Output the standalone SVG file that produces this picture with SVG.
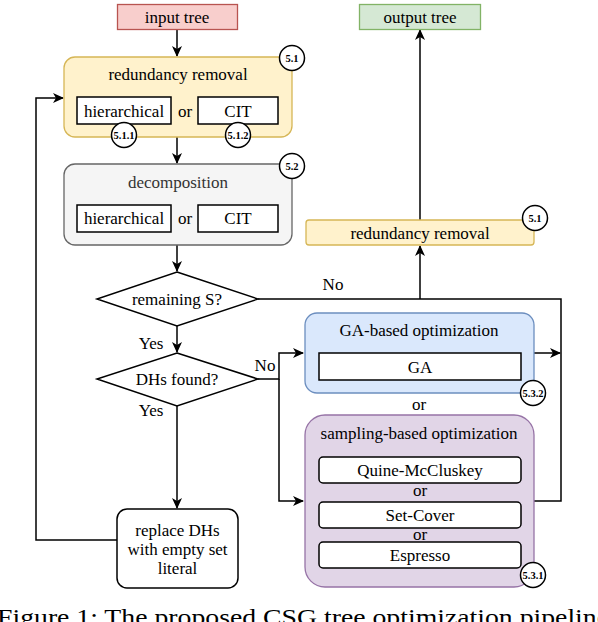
<svg xmlns="http://www.w3.org/2000/svg" width="598" height="622" viewBox="0 0 598 622">
<defs>
<marker id="arr" markerWidth="12" markerHeight="10" refX="10" refY="5" orient="auto" markerUnits="userSpaceOnUse">
<path d="M0,0 L11,5 L0,10 L3,5 z" fill="#000"/>
</marker>
<style>
.s{font-family:'Liberation Serif','Times New Roman',serif;font-size:17px;fill:#000;text-anchor:middle}
.inner{fill:#fff;stroke:#000;stroke-width:1.5}
.badge circle{fill:#fff;stroke:#000;stroke-width:1.5}
.badge text{font-family:'Liberation Serif','Times New Roman',serif;font-size:10.5px;font-weight:bold;text-anchor:middle}
.edge{fill:none;stroke:#000;stroke-width:1.5}
.ea{marker-end:url(#arr)}
.dia{fill:#fff;stroke:#000;stroke-width:1.5}
</style>
</defs>
<rect width="598" height="622" fill="#fff"/>

<g id="connectors">
<path class="edge ea" d="M177,29 L177,56"/>
<path class="edge ea" d="M177,137 L177,163"/>
<path class="edge ea" d="M177,245 L177,271"/>
<path class="edge ea" d="M177,326 L177,352"/>
<path class="edge ea" d="M177,406 L177,508"/>
<path class="edge ea" d="M117,540 L36,540 L36,98 L63,98"/>
<path class="edge ea" d="M258,379 L279,379 L279,353 L303,353"/>
<path class="edge ea" d="M279,379 L279,501 L303,501"/>
<path class="edge" d="M258,299 L561,299 L561,501 L533,501"/>
<path class="edge ea" d="M533,353 L560,353"/>
<path class="edge ea" d="M420,299 L420,246"/>
<path class="edge ea" d="M420,220 L420,30"/>
<text class="s" x="151" y="349">Yes</text>
<text class="s" x="151" y="416">Yes</text>
<text class="s" x="265" y="371">No</text>
<text class="s" x="333" y="290">No</text>
</g>

<g id="input-tree">
<rect x="117.5" y="4.5" width="120" height="25" fill="#f8cecc" stroke="#b85450" stroke-width="1.3"/>
<text class="s" x="177" y="23">input tree</text>
</g>

<g id="output-tree">
<rect x="359.5" y="4.5" width="121" height="25" fill="#d5e8d4" stroke="#82b366" stroke-width="1.3"/>
<text class="s" x="420" y="23">output tree</text>
</g>

<g id="redundancy-removal-1">
<rect x="64" y="57" width="228" height="80" rx="11" fill="#fff2cc" stroke="#d6b656" stroke-width="1.3"/>
<text class="s" x="178" y="80">redundancy removal</text>
<rect class="inner" x="77" y="97" width="94" height="27"/>
<text class="s" x="124" y="116.5">hierarchical</text>
<text class="s" x="185" y="116.5">or</text>
<rect class="inner" x="198" y="97" width="80" height="27"/>
<text class="s" x="238" y="116.5">CIT</text>
<g class="badge"><circle cx="292" cy="58" r="12.5"/><text x="292" y="61.7">5.1</text></g>
<g class="badge"><circle cx="124" cy="135" r="12.5"/><text x="124" y="138.7">5.1.1</text></g>
<g class="badge"><circle cx="238" cy="135" r="12.5"/><text x="238" y="138.7">5.1.2</text></g>
</g>

<g id="decomposition">
<rect x="64" y="164" width="228" height="81" rx="11" fill="#f5f5f5" stroke="#666666" stroke-width="1.3"/>
<text class="s" x="178" y="188" style="fill:#333333">decomposition</text>
<rect class="inner" x="77" y="205" width="94" height="27"/>
<text class="s" x="124" y="224">hierarchical</text>
<text class="s" x="185" y="224">or</text>
<rect class="inner" x="198" y="205" width="80" height="27"/>
<text class="s" x="238" y="224">CIT</text>
<g class="badge"><circle cx="292" cy="166" r="12.5"/><text x="292" y="169.7">5.2</text></g>
</g>

<g id="remaining-s">
<polygon class="dia" points="177,272 258,299 177,326 97,299"/>
<text class="s" x="177" y="305">remaining S?</text>
</g>

<g id="dhs-found">
<polygon class="dia" points="177,353 258,379 177,406 97,379"/>
<text class="s" x="177" y="385">DHs found?</text>
</g>

<g id="replace-dhs">
<rect x="117" y="509" width="121" height="79" rx="10" fill="#fff" stroke="#000" stroke-width="1.5"/>
<text class="s" x="177.5" y="536">replace DHs</text>
<text class="s" x="177.5" y="555">with empty set</text>
<text class="s" x="177.5" y="574">literal</text>
</g>

<g id="redundancy-removal-2">
<rect x="306" y="220" width="228" height="25" rx="3" fill="#fff2cc" stroke="#d6b656" stroke-width="1.3"/>
<text class="s" x="420" y="238.5">redundancy removal</text>
<g class="badge"><circle cx="535" cy="218" r="12.5"/><text x="535" y="221.7">5.1</text></g>
</g>

<g id="ga-optimization">
<rect x="305" y="313" width="229" height="80" rx="12" fill="#dae8fc" stroke="#6c8ebf" stroke-width="1.3"/>
<text class="s" x="419" y="336">GA-based optimization</text>
<rect class="inner" x="319" y="353" width="202" height="27"/>
<text class="s" x="420" y="372.5">GA</text>
<g class="badge"><circle cx="533" cy="393" r="12.5"/><text x="533" y="396.7">5.3.2</text></g>
</g>

<text class="s" x="419" y="410">or</text>

<g id="sampling-optimization">
<rect x="305" y="415" width="229" height="172" rx="20" fill="#e1d5e7" stroke="#9673a6" stroke-width="1.3"/>
<text class="s" x="419" y="439">sampling-based optimization</text>
<rect class="inner" x="319" y="457" width="202" height="26" rx="4"/>
<text class="s" x="420" y="476">Quine-McCluskey</text>
<text class="s" x="420" y="496">or</text>
<rect class="inner" x="319" y="502" width="202" height="26" rx="4"/>
<text class="s" x="420" y="521">Set-Cover</text>
<text class="s" x="420" y="540">or</text>
<rect class="inner" x="319" y="542" width="202" height="26" rx="4"/>
<text class="s" x="420" y="561">Espresso</text>
<g class="badge"><circle cx="533" cy="575" r="12.5"/><text x="533" y="578.7">5.3.1</text></g>
</g>

<text x="-3" y="625" font-family="Liberation Serif, serif" font-size="23" textLength="612" lengthAdjust="spacingAndGlyphs">Figure 1: The proposed CSG tree optimization pipeline</text>
</svg>
